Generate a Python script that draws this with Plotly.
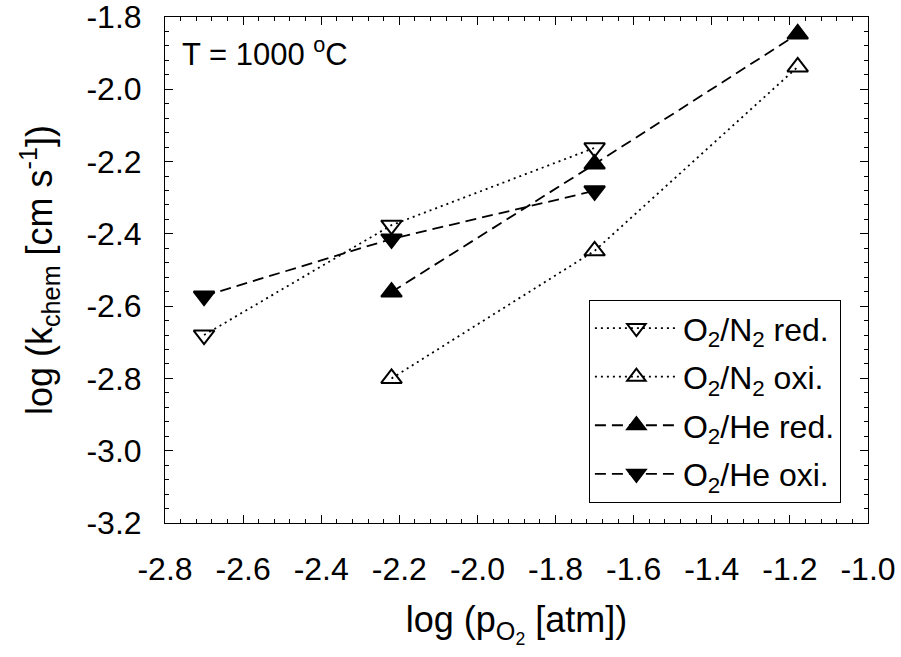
import plotly.graph_objects as go

# Data
log_pO2 = [-2.70, -2.22, -1.70, -1.18]
n2_red = [-2.68, -2.376, -2.162, None]
n2_oxi = [None, -2.80, -2.447, -1.938]
he_red = [None, -2.561, -2.207, -1.847]
he_oxi = [-2.572, -2.414, -2.281, None]

x_ticks = [-2.8, -2.6, -2.4, -2.2, -2.0, -1.8, -1.6, -1.4, -1.2, -1.0]
x_ticktext = ["-2.8", "-2.6", "-2.4", "-2.2", "-2.0", "-1.8", "-1.6", "-1.4", "-1.2", "-1.0"]
y_ticks = [-1.8, -2.0, -2.2, -2.4, -2.6, -2.8, -3.0, -3.2]
y_ticktext = ["-1.8", "-2.0", "-2.2", "-2.4", "-2.6", "-2.8", "-3.0", "-3.2"]

FONT = "Liberation Sans, Arial, sans-serif"

def pts(xs, ys):
    px, py = [], []
    for a, b in zip(xs, ys):
        if b is not None:
            px.append(a)
            py.append(b)
    return px, py

fig = go.Figure()
series = [
    ("O<sub>2</sub>/N<sub>2</sub> red.", n2_red, "2px,4px", "triangle-down-open"),
    ("O<sub>2</sub>/N<sub>2</sub> oxi.", n2_oxi, "2px,4px", "triangle-up-open"),
    ("O<sub>2</sub>/He red.", he_red, "11px,6px", "triangle-up"),
    ("O<sub>2</sub>/He oxi.", he_oxi, "11px,6px", "triangle-down"),
]
for i, (name, ys, dash, sym) in enumerate(series):
    px, py = pts(log_pO2, ys)
    fig.add_trace(go.Scatter(
        x=px, y=py, name=name, mode="lines+markers", legendgroup=f"g{i}",
        line=dict(color="black", width=1.8, dash=dash),
        marker=dict(symbol=sym, size=18, color="black",
                    line=dict(color="black", width=2)),
    ))

axis_common = dict(
    showgrid=False, zeroline=False, showline=True, linecolor="black", linewidth=1,
    mirror="ticks", ticks="inside", ticklen=8, tickwidth=1, tickcolor="black",
    tickfont=dict(family=FONT, size=32, color="black"), automargin=False,
    ticklabeloverflow="allow",
    minor=dict(ticks="inside", ticklen=4, tickwidth=1, tickcolor="black", dtick=0.04),
)

fig.update_xaxes(range=[-2.8, -1.0], tickvals=x_ticks, ticktext=x_ticktext,
                 ticklabelstandoff=18,
                 title=dict(text="log (p<sub>O<sub>2</sub></sub> [atm])",
                            font=dict(family=FONT, size=36, color="black"), standoff=20),
                 **axis_common)
fig.update_yaxes(range=[-3.2, -1.8], tickvals=y_ticks, ticktext=y_ticktext,
                 ticklabelstandoff=16,
                 title=dict(text="log (k<sub>chem</sub> [cm s<sup>-1</sup>])",
                            font=dict(family=FONT, size=36, color="black"), standoff=22),
                 **axis_common)

fig.add_annotation(x=0.022, y=0.93, xref="paper", yref="paper", xanchor="left", yanchor="middle",
                   text="T = 1000 <sup>o</sup>C", showarrow=False,
                   font=dict(family=FONT, size=31, color="black"))

fig.update_layout(
    width=901, height=657,
    margin=dict(l=165, r=33, t=17, b=134),
    plot_bgcolor="white", paper_bgcolor="white",
    showlegend=True,
    legend=dict(x=0.603, y=0.04, xanchor="left", yanchor="bottom",
                bordercolor="black", borderwidth=1, bgcolor="white",
                font=dict(family=FONT, size=32, color="black"),
                itemwidth=83, tracegroupgap=4),
)

fig.write_html("out.html", config={"displayModeBar": False},
               post_script="document.body.style.margin='0';document.body.style.padding='0';")
